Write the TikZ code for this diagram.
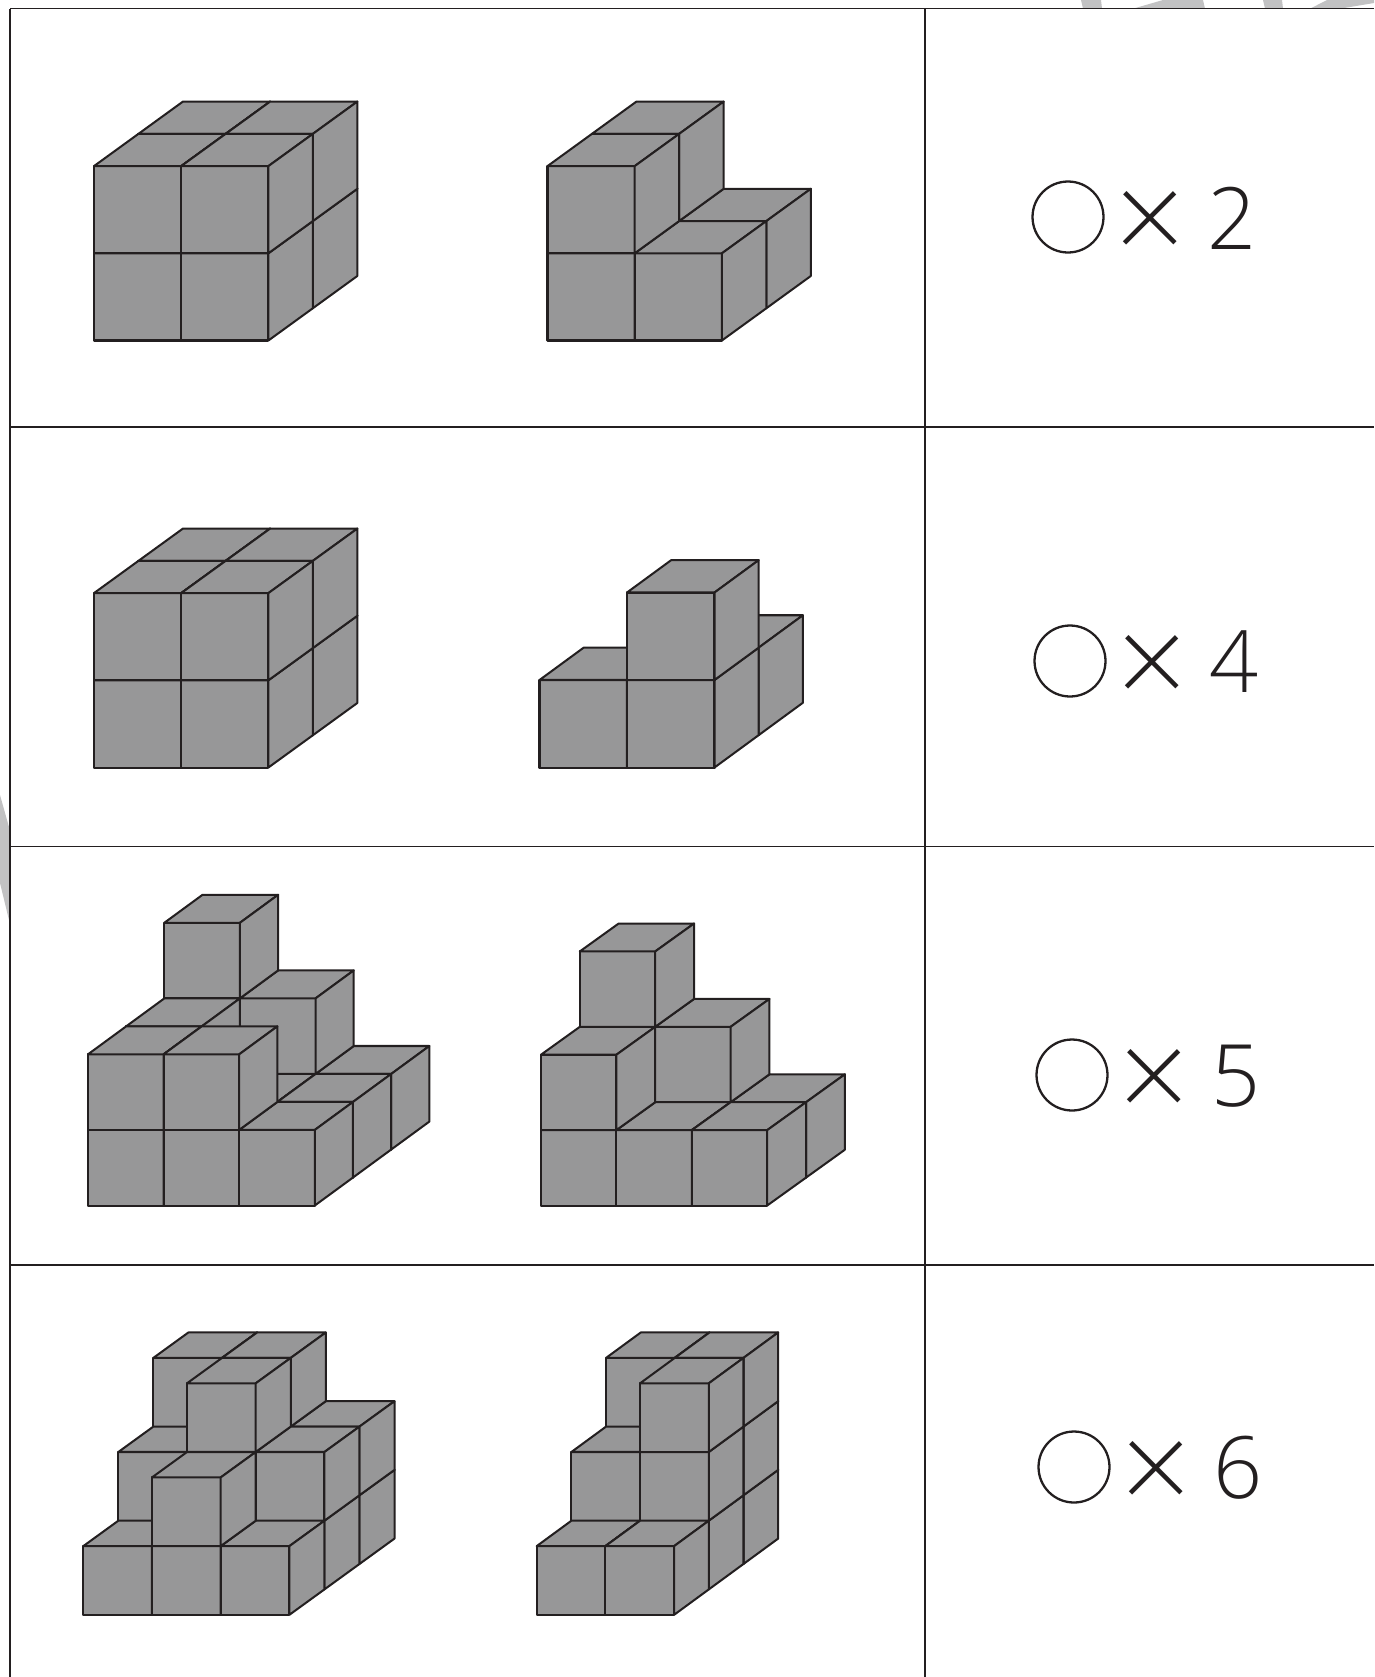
\documentclass[tikz,border=0pt]{standalone}
\usepackage{fontspec}
\usepackage{xcolor}
\newfontfamily\numfont{Open Sans Light}
\newfontfamily\timesfont{Lato Light}
\definecolor{ink}{HTML}{231F20}
\definecolor{slab}{HTML}{979798}
\definecolor{ghost}{HTML}{C2C2C3}
% #1,#2 front corner, #3 cube side, #4 depth slant, #5 cubes as i/k/j
\newcommand{\blockfig}[5]{%
\begin{scope}[shift={(#1,#2+0.5)},x={(#3,0)},y={(0,-#3)},z={(#4,0.37)}]
  \foreach \i/\k/\j in {#5} {
    \draw[face] (\i,\k,\j) -- (\i+1,\k,\j) -- (\i+1,\k+1,\j) -- (\i,\k+1,\j) -- cycle;
    \draw[face] (\i,\k+1,\j) -- (\i,\k+1,\j+1) -- (\i+1,\k+1,\j+1) -- (\i+1,\k+1,\j) -- cycle;
    \draw[face] (\i+1,\k,\j) -- (\i+1,\k,\j+1) -- (\i+1,\k+1,\j+1) -- (\i+1,\k+1,\j) -- cycle;
  }
\end{scope}}
\begin{document}
\begin{tikzpicture}[x=0.02cm,y=-0.02cm,
  rule/.style={draw=ink,line width=0.7pt},
  face/.style={draw=ink,fill=slab,line width=1.15pt,line join=round},
  ringmark/.style={circle,draw=ink,line width=1.3pt,minimum size=1.42cm,inner sep=0pt},
  timesmark/.style={text=ink,font=\timesfont\fontsize{72}{72}\selectfont,inner sep=0pt},
  countmark/.style={text=ink,font=\numfont\fontsize{49}{49}\selectfont,inner sep=0pt}]
\useasboundingbox (0,0) rectangle (1374,1677);
% watermark pieces
\fill[ghost] (1081,0) -- (1083,8.7) -- (1102,8.7) -- (1101,0) -- cycle;
\fill[ghost] (1133,8.7) -- (1163,0) -- (1203,0) -- (1205,8.7) -- cycle;
\fill[ghost] (1263,0) -- (1265,8.7) -- (1283,8.7) -- (1282,0) -- cycle;
\fill[ghost] (1310,8.7) -- (1327,0) -- (1374,0) -- (1374,3) -- (1340,8.7) -- cycle;
\fill[ghost] (0,795) -- (9,827) -- (9,920) -- (0,883) -- cycle;
% table
\draw[rule] (10,8.7) -- (1374,8.7);
\draw[rule] (10,8.7) -- (10,1677);
\draw[rule] (925,8.7) -- (925,1677);
\foreach \ypos in {427,846.5,1265} \draw[rule] (10,\ypos) -- (1374,\ypos);
% first row
\blockfig{94}{340}{87.2}{0.51}{0/0/1,1/0/1,0/1/1,1/1/1,0/0/0,1/0/0,0/1/0,1/1/0}
\blockfig{547.5}{340}{87.2}{0.51}{0/0/1,1/0/1,0/1/1,0/0/0,1/0/0,0/1/0}
% second row
\blockfig{94}{767}{87.2}{0.51}{0/0/1,1/0/1,0/1/1,1/1/1,0/0/0,1/0/0,0/1/0,1/1/0}
\blockfig{539.5}{767}{87.5}{0.505}{1/0/1,0/0/0,1/0/0,1/1/0}
% third row
\blockfig{88}{1205}{75.6}{0.505}{0/0/2,1/0/2,2/0/2,0/1/2,1/1/2,0/2/2,0/0/1,1/0/1,2/0/1,0/1/1,0/0/0,1/0/0,2/0/0,0/1/0,1/1/0}
\blockfig{541}{1205}{75.4}{0.515}{0/0/1,1/0/1,2/0/1,0/1/1,1/1/1,0/2/1,0/0/0,1/0/0,2/0/0,0/1/0}
% fourth row
\blockfig{83.3}{1614.3}{68.7}{0.51}{0/0/2,1/0/2,2/0/2,0/1/2,1/1/2,2/1/2,0/2/2,1/2/2,0/0/1,1/0/1,2/0/1,0/1/1,1/1/1,2/1/1,1/2/1,0/0/0,1/0/0,2/0/0,1/1/0}
\blockfig{536.7}{1614.3}{68.7}{0.505}{0/0/2,1/0/2,0/1/2,1/1/2,0/2/2,1/2/2,0/0/1,1/0/1,0/1/1,1/1/1,1/2/1,0/0/0,1/0/0}
% counts
\foreach \ypos/\xshift/\num in {217/0/2,661/2/4,1075/4/5,1467/6/6} {
  \node[ringmark] (ring\num) at (1068+\xshift,\ypos) {};
  \node[timesmark] (times\num) at (1150+\xshift,\ypos+8.5) {×};
  \node[countmark] (count\num) at (1232+\xshift,\ypos+1) {\num};
}
\end{tikzpicture}
\end{document}
